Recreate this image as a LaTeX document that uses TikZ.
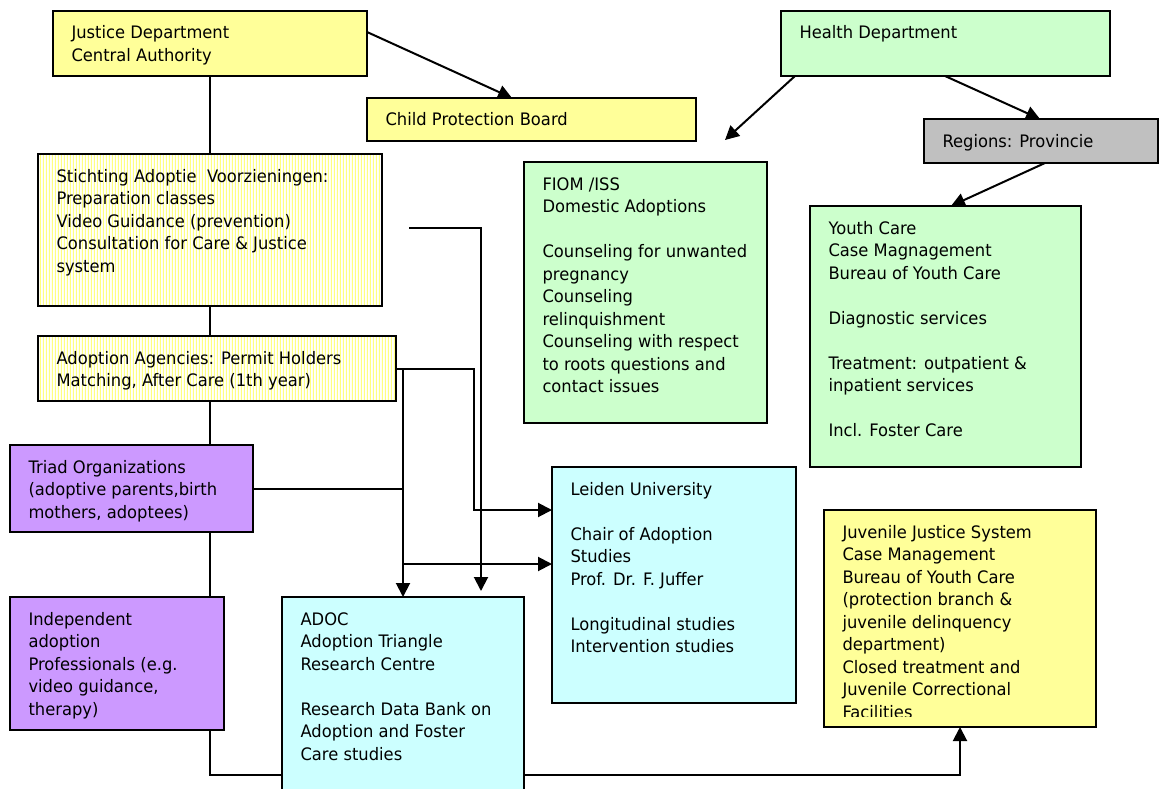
\documentclass[tikz,border=0pt]{standalone}
\usepackage{fontspec}
\setmainfont{DejaVu Sans}[FakeStretch=0.95]
\usetikzlibrary{arrows.meta,patterns.meta,calc}
\definecolor{yel}{HTML}{FFFF99}
\definecolor{grn}{HTML}{CCFFCC}
\definecolor{gry}{HTML}{C0C0C0}
\definecolor{prp}{HTML}{CC99FF}
\definecolor{cyn}{HTML}{CCFFFF}
\definecolor{stripe}{HTML}{FFFF80}
\tikzdeclarepattern{name=vstripes, type=uncolored,
  bounding box={(0pt,0pt) and (3.3pt,3.3pt)}, tile size={(3.3pt,3.3pt)},
  code={\pgfsetlinewidth{1.3pt}\pgfpathmoveto{\pgfqpoint{1.65pt}{-0.5pt}}\pgfpathlineto{\pgfqpoint{1.65pt}{3.8pt}}\pgfusepath{stroke}}}
\newcommand{\orgbox}[7]{\node[#6, anchor=north west, inner sep=0pt, outer sep=0pt] (#1) at (#2,#3)
  {\parbox[c][#5pt][t]{#4pt}{\raggedright\setlength{\leftskip}{18.5pt}\vspace*{12.25pt}\strut #7}};}
\tikzset{
  bx/.style={draw=black, line width=2.4pt, font=\fontsize{17.2}{22.5}\selectfont},
  ybox/.style={bx, fill=yel},
  gbox/.style={bx, fill=grn},
  greybox/.style={bx, fill=gry},
  pbox/.style={bx, fill=prp},
  cbox/.style={bx, fill=cyn},
  hbox/.style={bx, preaction={fill=white}, pattern=vstripes, pattern color=stripe},
  conn/.style={line width=2pt, draw=black},
  arr/.style={conn, -{Triangle[length=14pt,width=14pt]}}
}
\begin{document}
\begin{tikzpicture}[x=1pt,y=-1pt]
\fill[white] (0,0) rectangle (1159,789);
\useasboundingbox (0,0) rectangle (1159,789);
\orgbox{JD}{53}{11}{314}{65}{ybox}{Justice Department\\Central Authority}
\orgbox{CPB}{367}{98}{329}{43}{ybox}{Child Protection Board}
\orgbox{HD}{781}{11}{329}{65}{gbox}{Health Department}
\orgbox{Reg}{924}{119}{234}{44}{greybox}{Regions: Provincie}
\orgbox{St}{38}{154}{344}{152}{hbox}{Stichting Adoptie\ \ Voorzieningen:\\Preparation classes\\Video Guidance (prevention)\\Consultation for Care \& Justice\\system}
\orgbox{FIOM}{524}{162}{243}{261}{gbox}{FIOM /ISS\\Domestic Adoptions\\[22.5pt]Counseling for unwanted\\pregnancy\\Counseling\\relinquishment\\Counseling with respect\\to roots questions and\\contact issues}
\orgbox{YC}{810}{206}{271}{261}{gbox}{Youth Care\\Case Magnagement\\Bureau of Youth Care\\[22.5pt]Diagnostic services\\[22.5pt]Treatment: outpatient \&\\inpatient services\\[22.5pt]Incl. Foster Care}
\orgbox{AA}{38}{336}{358}{65}{hbox}{Adoption Agencies: Permit Holders\\Matching, After Care (1th year)}
\orgbox{Triad}{10}{445}{243}{87}{pbox}{Triad Organizations\\(adoptive parents,birth\\mothers, adoptees)}
\orgbox{Leiden}{552}{467}{244}{236}{cbox}{Leiden University\\[22.5pt]Chair of Adoption\\Studies\\Prof. Dr. F. Juffer\\[22.5pt]Longitudinal studies\\Intervention studies}
\orgbox{JJ}{824}{510}{272}{217}{ybox}{Juvenile Justice System\\Case Management\\Bureau of Youth Care\\(protection branch \&\\juvenile delinquency\\department)\\Closed treatment and\\Juvenile Correctional\\Facilities}
\fill[yel] (825.4,717.3) rectangle (1094.6,725.6);
\orgbox{Indep}{10}{597}{214}{133}{pbox}{Independent\\adoption\\Professionals (e.g.\\video guidance,\\therapy)}
\orgbox{ADOC}{282}{597}{242}{215}{cbox}{ADOC\\Adoption Triangle\\Research Centre\\[22.5pt]Research Data Bank on\\Adoption and Foster\\Care studies}
% helper coordinates
\coordinate (spx) at (210,0);
\coordinate (c403) at (403,0);
\coordinate (c474) at (474,0);
\coordinate (c481) at (481,0);
\coordinate (jjx) at (960,0);
\coordinate (yb) at (0,775);
\coordinate (y510) at (0,510);
\coordinate (y564) at (0,564);
\coordinate (hdfree) at (725,140);
\coordinate (stfree) at (409,228);
% spine
\draw[conn] (JD.south -| spx) -- (St.north -| spx);
\draw[conn] (St.south -| spx) -- (AA.north -| spx);
\draw[conn] (AA.south -| spx) -- (Triad.north -| spx);
\draw[conn] (Triad.south -| spx) -- (Indep.north -| spx);
\draw[conn] (Indep.south -| spx) |- (ADOC.west |- yb);
\draw[arr] (ADOC.east |- yb) -| (JJ.south -| jjx);
% top arrows
\draw[arr] ([yshift=-21pt]JD.north east) -- ([xshift=145pt]CPB.north west);
\draw[arr] ([xshift=14pt]HD.south west) -- (hdfree);
\draw[arr] ([xshift=164pt]HD.south west) -- ([xshift=116pt]Reg.north west);
\draw[arr] ([xshift=121pt]Reg.south west) -- ([xshift=141pt]YC.north west);
% middle connectors
\draw[arr, shorten >=6pt] (stfree) -| (ADOC.north -| c481);
\draw[arr] (AA.east) -| (ADOC.north -| c403);
\draw[arr] (AA.east) -- (AA.east -| c474) |- (Leiden.west |- y510);
\draw[conn] (Triad.east) -- (Triad.east -| c403);
\draw[arr] (c403 |- y564) -- (Leiden.west |- y564);
\end{tikzpicture}
\end{document}
